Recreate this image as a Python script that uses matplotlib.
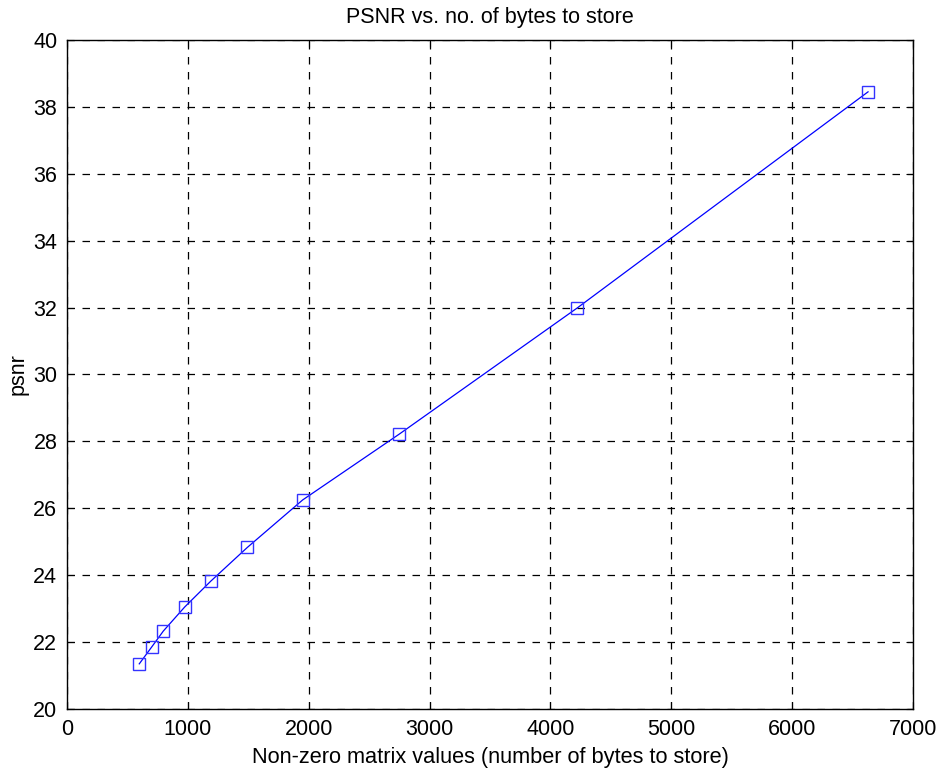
import matplotlib
matplotlib.use("Agg")
import matplotlib.pyplot as plt

# values
nonzero_bytes = [598, 700, 797, 974, 1189, 1492, 1950, 2750, 4222, 6628]
psnr = [21.35, 21.85, 22.33, 23.05, 23.82, 24.83, 26.25, 28.22, 31.99, 38.45]

x_ticks = [0, 1000, 2000, 3000, 4000, 5000, 6000, 7000]
y_ticks = [20, 22, 24, 26, 28, 30, 32, 34, 36, 38, 40]

plt.rcParams['font.family'] = ['Liberation Sans', 'DejaVu Sans']

fig = plt.figure(figsize=(9.46, 7.77), dpi=100)
ax = fig.add_axes([67 / 946, 1 - 709 / 777, (913 - 67) / 946, (709 - 40) / 777])

ax.plot(nonzero_bytes, psnr, color=(0, 0, 1), linewidth=0.9,
        marker='s', markersize=9, markerfacecolor='none',
        markeredgecolor=(0.2, 0.2, 1), markeredgewidth=1.0)

ax.set_xlim(0, 7000)
ax.set_ylim(20, 40)
ax.set_xticks(x_ticks)
ax.set_yticks(y_ticks)
ax.tick_params(direction='in', top=True, right=True, labelsize=15.5,
               length=5, width=0.8, pad=7)

ax.grid(True, color='black', linestyle=(0, (6, 6)), linewidth=0.9)
for s in ax.spines.values():
    s.set_linewidth(1.0)

ax.set_title('PSNR vs. no. of bytes to store', fontsize=15.5, pad=12)
ax.set_xlabel('Non-zero matrix values (number of bytes to store)', fontsize=15.7, labelpad=5)
ax.set_ylabel('psnr', fontsize=15.5, labelpad=3)

fig.savefig('out.png', dpi=100)
